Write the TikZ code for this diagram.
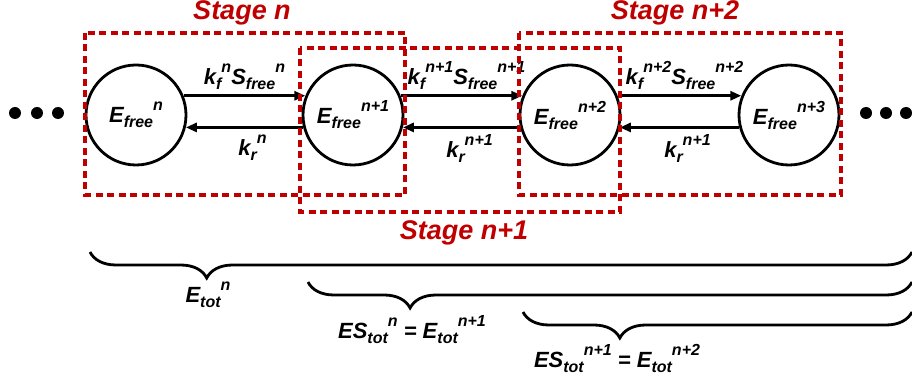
\documentclass[tikz,border=0pt]{standalone}
\usepackage{fontspec}
\setmainfont{Liberation Sans}
\usetikzlibrary{arrows.meta,decorations.pathreplacing,positioning}
\definecolor{cStage}{HTML}{C00000}
\newcommand{\lo}[1]{\raisebox{-5pt}{\fontsize{16}{16}\selectfont #1}}
\newcommand{\hi}[1]{\raisebox{12pt}{\fontsize{16}{16}\selectfont #1}}
\tikzset{
  state/.style   ={draw, circle, line width=2.8pt, minimum size=100pt, inner sep=0pt,
                   font=\fontsize{22}{24}\selectfont\bfseries\itshape},
  rate/.style    ={-{Triangle[length=11pt,width=9pt]}, line width=2.8pt},
  ratelbl/.style ={font=\fontsize{22}{24}\selectfont\bfseries\itshape, inner sep=1pt},
  stagebox/.style={draw=cStage, line width=3.5pt, dash pattern=on 7pt off 4.5pt},
  stagelbl/.style={text=cStage, font=\fontsize{27}{30}\selectfont\bfseries\itshape, anchor=base},
  totbrace/.style={decorate, decoration={brace, mirror, amplitude=26pt}, line width=2.8pt},
  totlbl/.style  ={font=\fontsize{22}{24}\selectfont\bfseries\itshape, anchor=base, inner sep=0pt},
}
\begin{document}
\begin{tikzpicture}[x=1pt,y=-1pt]
  \useasboundingbox (0,0) rectangle (912,379);
  % states
  \node[state] (e1) at (136,115) {E\lo{free}\hi{n}};
  \node[state] (e2) at (353,115) {E\lo{free}\hi{n+1}};
  \node[state] (e3) at (570,115) {E\lo{free}\hi{n+2}};
  \node[state] (e4) at (789,115) {E\lo{free}\hi{n+3}};
  \foreach \x in {15,37,58,866,886,906}
    \fill (\x,113) circle (6pt);
  % forward and reverse rates
  \draw[rate] (e1.22) -- node[ratelbl, midway, above=4pt] {k\lo{f}\hi{n}S\lo{free}\hi{n}} (e2.158);
  \draw[rate] (e2.194) -- node[ratelbl, midway, below=5pt, xshift=8pt] {k\lo{r}\hi{n}} (e1.-14);
  \draw[rate] (e2.22) -- node[ratelbl, midway, above=4pt, xshift=5pt] {k\lo{f}\hi{n+1}S\lo{free}\hi{n+1}} (e3.158);
  \draw[rate] (e3.194) -- node[ratelbl, midway, below=5pt, xshift=8pt] {k\lo{r}\hi{n+1}} (e2.-14);
  \draw[rate] (e3.22) -- node[ratelbl, midway, above=4pt, xshift=5pt] {k\lo{f}\hi{n+2}S\lo{free}\hi{n+2}} (e4.158);
  \draw[rate] (e4.194) -- node[ratelbl, midway, below=5pt, xshift=8pt] {k\lo{r}\hi{n+1}} (e3.-14);
  % stages
  \draw[stagebox] (85,33) rectangle (405,195);
  \draw[stagebox] (300,48) rectangle (620,212);
  \draw[stagebox] (519,33) rectangle (841,195);
  \node[stagelbl] (sn)  at (242,20)  {Stage n};
  \node[stagelbl] (sn1) at (464,240) {Stage n+1};
  \node[stagelbl] (sn2) at (675,20)  {Stage n+2};
  % totals
  \draw[totbrace, decoration={aspect=0.142}] (90,252) -- (912,252);
  \draw[totbrace, decoration={aspect=0.169}] (308,282) -- (912,282);
  \draw[totbrace, decoration={aspect=0.249}] (523,312) -- (912,312);
  \node[totlbl] (t1) at (208,302) {E\lo{tot}\hi{n}};
  \node[totlbl] (t2) at (412,338) {ES\lo{tot}\hi{n} = E\lo{tot}\hi{n+1}};
  \node[totlbl] (t3) at (617,367) {ES\lo{tot}\hi{n+1} = E\lo{tot}\hi{n+2}};
\end{tikzpicture}
\end{document}
